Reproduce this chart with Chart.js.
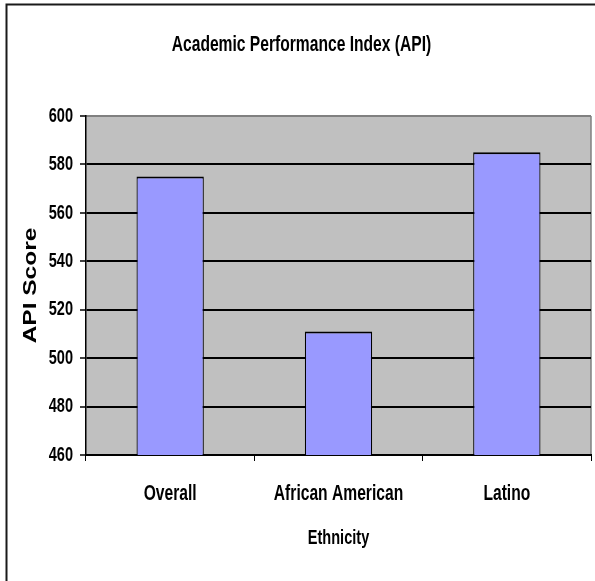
<!DOCTYPE html>
<html>
<head>
<meta charset="utf-8">
<script src="https://cdn.jsdelivr.net/npm/chart.js@4"></script>
<style>
  html, body { margin: 0; padding: 0; background: #ffffff; }
  #wrap { width: 595px; height: 581px; }
</style>
</head>
<body>
<div id="wrap"><canvas id="c" width="595" height="581"></canvas></div>
<script>
// API scores by ethnicity
const categories = ['Overall', 'African American', 'Latino'];
const apiScores = [575, 511, 585];
const yTicks = [460, 480, 500, 520, 540, 560, 580, 600];

// Text is drawn tall and narrow: NARROW text is squeezed across,
// the rotated WIDE axis title is stretched along its length.
const NARROW = '"Liberation Sans", Arial, sans-serif';
const WIDE = 'Arial, "Liberation Sans", sans-serif';
const CONDENSE = 0.71;
const STRETCH = 1.4;

const canvas = document.getElementById('c');
const ctx2d = canvas.getContext('2d');

const textScale = (font) => {
  if (/Liberation Sans"?\s*,\s*Arial/.test(font)) return CONDENSE;
  if (/Arial\s*,\s*"?Liberation Sans/.test(font)) return STRETCH;
  return 1;
};
const baseFillText = ctx2d.fillText;
ctx2d.fillText = function (text, x, y, maxWidth) {
  const k = textScale(this.font);
  this.save();
  this.translate(x, y);
  this.scale(k, 1);
  if (maxWidth === undefined) baseFillText.call(this, text, 0, 0);
  else baseFillText.call(this, text, 0, 0, maxWidth / k);
  this.restore();
};
const baseMeasure = ctx2d.measureText;
ctx2d.measureText = function (text) {
  const m = baseMeasure.call(this, text);
  const k = textScale(this.font);
  if (k === 1) return m;
  return { width: m.width * k,
           actualBoundingBoxAscent: m.actualBoundingBoxAscent,
           actualBoundingBoxDescent: m.actualBoundingBoxDescent };
};

// Frame, plot background and plot border
const framePlugin = {
  id: 'frame',
  beforeDraw(chart) {
    const { ctx, chartArea: a } = chart;
    ctx.save();
    ctx.fillStyle = '#ffffff';
    ctx.fillRect(0, 0, chart.width, chart.height);
    ctx.fillStyle = '#c0c0c0';
    ctx.fillRect(a.left, a.top, a.right - a.left, a.bottom - a.top);
    ctx.strokeStyle = '#808080';
    ctx.lineWidth = 2;
    ctx.beginPath();
    ctx.moveTo(a.left, a.top);
    ctx.lineTo(a.right, a.top);
    ctx.stroke();
    ctx.lineWidth = 1.5;
    ctx.beginPath();
    ctx.moveTo(a.right, a.top);
    ctx.lineTo(a.right, a.bottom);
    ctx.stroke();
    ctx.strokeStyle = '#1a1a1a';
    ctx.lineWidth = 2;
    ctx.beginPath();
    ctx.moveTo(chart.width, 4.5);
    ctx.lineTo(6.5, 4.5);
    ctx.lineTo(6.5, chart.height);
    ctx.stroke();
    ctx.restore();
  }
};

new Chart(canvas, {
  type: 'bar',
  data: {
    labels: categories,
    datasets: [{
      label: 'API Score',
      data: apiScores,
      backgroundColor: '#9999ff',
      borderColor: '#000000',
      borderWidth: { top: 2, bottom: 2, left: 1.2, right: 1.2 },
      borderSkipped: false,
      barPercentage: 0.4,
      categoryPercentage: 1.0
    }]
  },
  options: {
    responsive: false,
    animation: false,
    devicePixelRatio: 1,
    layout: { padding: { top: 0, left: 12, right: 4, bottom: 0 } },
    plugins: {
      legend: { display: false },
      tooltip: { enabled: false },
      title: {
        display: true,
        text: 'Academic Performance Index (API)',
        color: '#000000',
        font: { family: NARROW, size: 22, weight: 'bold', lineHeight: 1.2 },
        padding: { top: 31.8, bottom: 116 - 31.8 - 26.4 }
      }
    },
    scales: {
      x: {
        afterFit(scale) { scale.height = 126; },
        offset: true,
        grid: {
          offset: true,
          drawOnChartArea: false,
          drawTicks: true,
          tickLength: 6,
          tickColor: '#000000',
          tickWidth: 1
        },
        border: { display: true, color: '#000000', width: 2 },
        ticks: {
          color: '#000000',
          padding: 19.5,
          autoSkip: false,
          maxRotation: 0,
          font: { family: NARROW, size: 22, weight: 'bold' }
        },
        title: {
          display: true,
          text: 'Ethnicity',
          color: '#000000',
          font: { family: NARROW, size: 20.5, weight: 'bold', lineHeight: 1.2 },
          padding: { top: 0, bottom: 30.7 }
        }
      },
      y: {
        min: 460,
        max: 600,
        afterFit(scale) { scale.width = 74; },
        afterBuildTicks(scale) { scale.ticks = yTicks.map(v => ({ value: v })); },
        grid: {
          color: (c) => (c.tick && c.tick.value === 600 ? 'rgba(0,0,0,0)' : '#000000'),
          lineWidth: 2,
          drawTicks: true,
          tickLength: 6,
          tickColor: '#000000',
          tickWidth: 1.5
        },
        border: { display: true, color: '#000000', width: 1.5 },
        ticks: {
          color: '#000000',
          padding: 7,
          font: { family: NARROW, size: 20.5, weight: 'bold' }
        },
        title: {
          display: true,
          text: 'API Score',
          color: '#000000',
          font: { family: WIDE, size: 17.5, weight: 'bold', lineHeight: 1.2 },
          padding: { top: 8.5, bottom: 0 }
        }
      }
    }
  },
  plugins: [framePlugin]
});
</script>
</body>
</html>
